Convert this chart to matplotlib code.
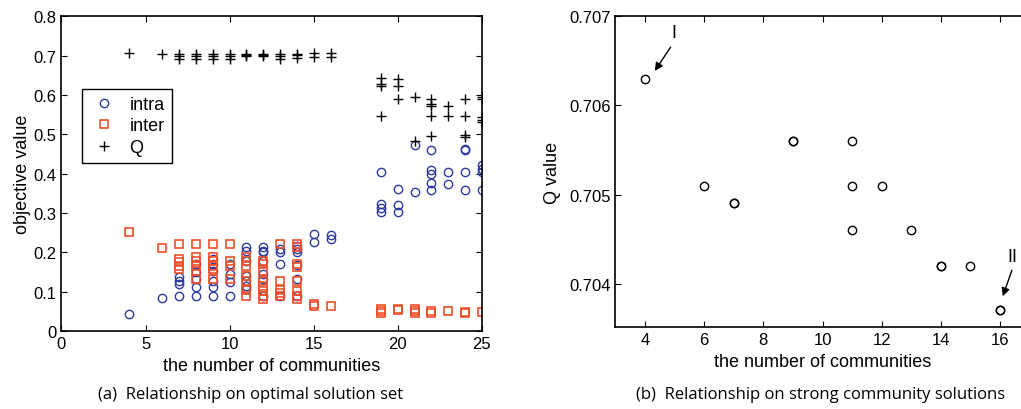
import numpy as np
import matplotlib
matplotlib.use("Agg")
import matplotlib.pyplot as plt

plt.rcParams['font.family'] = ['Liberation Sans', 'DejaVu Sans']

# (a) optimal solution set: values per number of communities
intra = {
    4: [0.044],
    6: [0.083],
    7: [0.137, 0.128, 0.12, 0.09],
    8: [0.17, 0.149, 0.132, 0.111, 0.09],
    9: [0.183, 0.17, 0.153, 0.128, 0.111, 0.09],
    10: [0.17, 0.145, 0.124, 0.09],
    11: [0.213, 0.204, 0.179, 0.14, 0.128, 0.115, 0.107],
    12: [0.213, 0.204, 0.2, 0.179, 0.145, 0.132, 0.09],
    13: [0.209, 0.2, 0.17, 0.09],
    14: [0.217, 0.209, 0.2, 0.169, 0.132, 0.09],
    15: [0.247, 0.226],
    16: [0.243, 0.235],
    19: [0.404, 0.323, 0.314, 0.302],
    20: [0.36, 0.321, 0.302],
    21: [0.472, 0.353],
    22: [0.461, 0.41, 0.40, 0.377, 0.359],
    23: [0.404, 0.375],
    24: [0.463, 0.459, 0.404, 0.359],
    25: [0.421, 0.412, 0.404, 0.359],
}
inter = {
    4: [0.252],
    6: [0.211],
    7: [0.221, 0.183, 0.175, 0.166, 0.158],
    8: [0.221, 0.187, 0.179, 0.166, 0.153, 0.132],
    9: [0.221, 0.187, 0.179, 0.166, 0.158, 0.132],
    10: [0.221, 0.179, 0.166, 0.132],
    11: [0.187, 0.179, 0.166, 0.14, 0.128, 0.105, 0.09],
    12: [0.179, 0.17, 0.153, 0.128, 0.115, 0.103, 0.09, 0.081],
    13: [0.221, 0.128, 0.105, 0.097, 0.09],
    14: [0.221, 0.213, 0.17, 0.162, 0.128, 0.103, 0.09, 0.081],
    15: [0.07, 0.064],
    16: [0.063],
    19: [0.057, 0.052, 0.046],
    20: [0.057, 0.053],
    21: [0.056, 0.052, 0.047],
    22: [0.05, 0.047],
    23: [0.05],
    24: [0.049, 0.046],
    25: [0.049],
}
Q = {
    4: [0.706],
    6: [0.705],
    7: [0.705, 0.699, 0.691],
    8: [0.705, 0.699, 0.691],
    9: [0.705, 0.700, 0.692],
    10: [0.705, 0.699, 0.691],
    11: [0.705, 0.701, 0.698],
    12: [0.705, 0.701, 0.698],
    13: [0.705, 0.699, 0.691],
    14: [0.705, 0.701, 0.693],
    15: [0.706, 0.696],
    16: [0.706, 0.696],
    19: [0.643, 0.628, 0.623, 0.546],
    20: [0.641, 0.623, 0.589],
    21: [0.595, 0.482],
    22: [0.589, 0.578, 0.572, 0.546, 0.495],
    23: [0.573, 0.546],
    24: [0.589, 0.546, 0.498, 0.494],
    25: [0.595, 0.589, 0.543, 0.537, 0.532],
}

# (b) strong community solutions
strong_k = [4, 6, 7, 7, 9, 9, 11, 11, 11, 12, 13, 14, 14, 15, 16, 16]
strong_q = [0.7063, 0.7051, 0.7049, 0.7049, 0.7056, 0.7056, 0.7056, 0.7051,
            0.7046, 0.7051, 0.7046, 0.7042, 0.7042, 0.7042, 0.7037, 0.7037]


def flat(d):
    xs, ys = [], []
    for k, vals in d.items():
        xs += [k] * len(vals)
        ys += vals
    return xs, ys


blue = '#2e3a9e'
orange = '#f0502a'

fig = plt.figure(figsize=(10.21, 4.10), dpi=100)
ax1 = fig.add_axes([0.0602, 0.19, 0.4118, 0.768])
ax2 = fig.add_axes([0.6027, 0.199, 0.4058, 0.759])

for ax in (ax1, ax2):
    ax.tick_params(direction='in', top=True, right=True, length=4,
                   labelsize=12, width=0.8)
    for s in ax.spines.values():
        s.set_linewidth(1.2)

x, y = flat(intra)
ax1.plot(x, y, 'o', mfc='none', mec=blue, ms=6, mew=1.0, label='intra')
x, y = flat(inter)
ax1.plot(x, y, 's', mfc='none', mec=orange, ms=5.5, mew=1.2, label='inter')
x, y = flat(Q)
ax1.plot(x, y, '+', color='k', ms=7, mew=1.0, label='Q')
ax1.set_xlim(0, 25)
ax1.set_ylim(0, 0.8)
ax1.set_xticks([0, 5, 10, 15, 20, 25])
ax1.set_yticks(np.arange(0, 0.81, 0.1))
ax1.set_yticklabels(['0', '0.1', '0.2', '0.3', '0.4', '0.5', '0.6', '0.7', '0.8'])
ax1.set_xlabel('the number of communities', fontsize=13, labelpad=4)
ax1.set_ylabel('objective value', fontsize=13, labelpad=2)
leg = ax1.legend(loc='upper left', bbox_to_anchor=(0.05, 0.77), fontsize=13,
                 fancybox=False, edgecolor='k', framealpha=1,
                 handletextpad=0.6, borderpad=0.4, labelspacing=0.25,
                 handlelength=1.6, borderaxespad=0)
leg.get_frame().set_linewidth(1.0)

ax2.plot(strong_k, strong_q, 'o', mfc='none', mec='k', ms=6, mew=1.0)
ax2.set_xlim(3, 17)
ax2.set_ylim(0.70351, 0.707)
ax2.set_xticks([4, 6, 8, 10, 12, 14, 16])
ax2.set_yticks([0.704, 0.705, 0.706, 0.707])
ax2.set_yticklabels(['0.704', '0.705', '0.706', '0.707'])
ax2.set_xlabel('the number of communities', fontsize=13, labelpad=4)
ax2.set_ylabel('Q value', fontsize=13, labelpad=6)
ax2.annotate('', xy=(4.28, 0.70636), xytext=(4.92, 0.70668),
             arrowprops=dict(arrowstyle='-|>', color='k', lw=1.0,
                             mutation_scale=12))
ax2.text(4.97, 0.70672, 'I', fontsize=13, ha='center', va='bottom')
ax2.annotate('', xy=(16.06, 0.70383), xytext=(16.43, 0.70418),
             arrowprops=dict(arrowstyle='-|>', color='k', lw=1.0,
                             mutation_scale=12))
ax2.text(16.4, 0.70421, 'II', fontsize=13, ha='center', va='bottom')

fig.text(0.245, 0.037, '(a)  Relationship on optimal solution set',
         ha='center', va='center', fontsize=12,
         family=['Open Sans', 'DejaVu Sans'])
fig.text(0.804, 0.037, '(b)  Relationship on strong community solutions',
         ha='center', va='center', fontsize=12,
         family=['Open Sans', 'DejaVu Sans'])

fig.savefig('out.png', dpi=100)
